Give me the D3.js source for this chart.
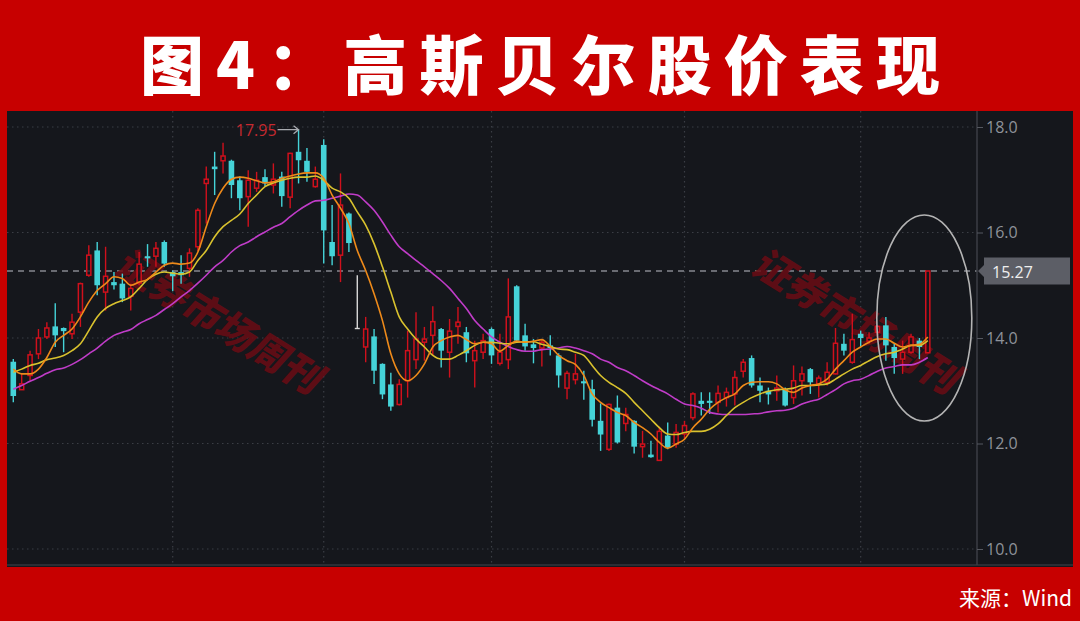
<!DOCTYPE html>
<html><head><meta charset="utf-8">
<script src="https://cdn.jsdelivr.net/npm/d3@7/dist/d3.min.js"></script>
<style>html,body{margin:0;padding:0;background:#c70000;}svg{display:block;}</style>
</head><body>
<svg id="c" width="1080" height="621"></svg>
<script>
const openP=[13.55,13.02,13.29,13.70,14.02,14.22,14.19,14.08,14.49,15.19,15.66,14.87,15.06,15.03,14.79,15.04,15.55,15.55,15.82,15.25,15.25,15.32,15.73,16.93,17.25,17.36,17.36,16.99,16.68,16.84,17.05,16.90,17.06,16.67,17.53,17.36,16.87,17.66,15.82,15.57,16.36,14.18,13.83,14.03,13.51,13.12,12.74,13.19,13.59,13.92,14.05,14.17,13.73,14.22,14.11,13.57,13.73,14.17,13.52,13.59,14.98,14.05,13.88,13.81,13.86,13.67,13.05,13.21,13.18,13.03,12.43,11.89,12.68,12.38,12.43,11.94,11.79,11.68,12.15,11.99,12.18,12.49,12.81,12.81,12.78,12.87,12.94,13.37,13.62,13.10,13.00,13.00,13.03,12.87,13.19,13.41,13.13,13.16,13.32,13.89,13.54,14.08,13.94,14.11,14.24,13.83,13.60,13.73,13.95,13.72];
const highP=[13.60,13.32,13.76,14.17,14.30,14.66,14.20,14.46,15.05,15.76,15.82,15.73,15.25,15.22,15.03,15.63,15.78,15.82,15.85,15.28,15.57,15.70,16.46,17.25,17.53,17.70,17.38,17.06,17.18,17.15,17.20,17.31,17.15,17.51,17.95,17.60,17.25,17.77,16.52,17.12,16.38,15.19,14.40,14.17,13.52,13.34,13.22,14.14,14.49,14.21,14.60,14.19,14.36,14.59,14.21,13.95,14.08,14.20,14.08,15.13,15.00,14.27,13.98,13.98,14.05,13.71,13.38,13.70,13.38,13.21,12.76,12.76,12.91,12.68,12.44,12.24,12.05,12.32,12.40,12.37,12.43,12.97,12.97,12.97,13.10,13.06,13.38,13.60,13.67,13.25,13.06,13.29,13.06,13.48,13.46,13.43,13.29,13.54,14.19,14.08,14.46,14.14,14.11,14.24,14.40,13.89,13.95,14.08,14.00,15.27];
const lowP=[12.78,13.02,13.19,13.60,13.98,13.83,13.73,13.98,14.21,15.16,14.81,14.52,14.92,14.68,14.52,15.00,15.35,15.35,15.35,14.89,15.03,15.16,15.65,16.17,16.71,17.12,16.65,16.42,16.11,16.77,16.87,16.74,16.49,16.46,16.93,16.96,16.85,15.41,15.38,15.06,15.63,14.17,13.54,13.13,12.84,12.62,12.72,12.87,13.41,13.57,13.67,13.44,13.25,13.89,13.54,13.06,13.60,13.51,13.48,13.41,13.92,13.76,13.52,13.46,13.67,13.06,12.84,13.12,12.83,12.32,11.86,11.86,12.00,12.23,11.81,11.73,11.73,11.67,11.89,11.92,12.08,12.44,12.53,12.56,12.59,12.70,12.72,13.25,13.06,12.78,12.74,12.81,12.70,12.75,12.91,12.94,12.87,13.10,13.31,13.67,13.51,13.83,13.89,14.02,13.57,13.32,13.32,13.70,13.60,13.72];
const closeP=[12.90,13.13,13.68,14.00,14.19,14.05,14.13,14.30,15.03,15.57,15.00,15.17,15.00,14.75,14.94,15.40,15.51,15.70,15.41,15.17,15.19,15.61,16.42,17.01,17.20,17.45,16.90,16.65,16.99,16.99,16.93,17.01,16.69,17.50,17.37,17.15,17.01,16.04,15.55,16.52,15.80,14.18,14.17,13.38,12.93,12.70,13.12,13.76,13.98,13.98,14.31,13.76,14.13,14.30,13.71,13.76,13.95,13.67,13.73,14.40,13.95,13.84,13.81,13.92,13.81,13.29,13.33,13.32,13.14,12.45,12.17,12.74,12.02,12.55,11.94,11.99,11.74,12.23,11.92,12.21,12.34,12.94,12.75,12.77,12.95,12.97,13.25,13.54,13.10,13.00,12.93,13.05,12.72,13.19,13.32,13.16,13.24,13.35,13.90,13.76,13.97,14.00,14.00,14.22,13.86,13.62,13.73,14.02,13.83,15.27];
const ma5=[13.41,13.32,13.32,13.41,13.63,13.92,14.05,14.17,14.40,14.68,14.90,15.03,15.16,15.13,15.00,15.06,15.11,15.25,15.38,15.42,15.40,15.42,15.63,16.11,16.55,16.84,17.01,17.05,17.03,16.98,16.94,16.96,17.03,17.07,17.11,17.13,17.13,17.03,16.71,16.46,16.17,15.66,15.28,14.84,14.33,13.70,13.32,13.19,13.29,13.51,13.83,13.95,14.02,14.05,13.97,13.89,13.92,13.89,13.75,13.86,13.94,13.92,13.94,13.97,13.84,13.67,13.57,13.50,13.29,12.94,12.78,12.68,12.59,12.53,12.40,12.30,12.18,12.02,11.91,11.99,12.08,12.30,12.46,12.65,12.78,12.87,12.94,13.10,13.16,13.17,13.17,13.13,13.02,12.97,13.05,13.10,13.13,13.22,13.41,13.57,13.73,13.83,13.92,13.98,13.98,13.90,13.83,13.86,13.88,14.02];
const ma10=[13.35,13.41,13.48,13.52,13.59,13.62,13.67,13.76,13.89,14.14,14.40,14.56,14.65,14.71,14.78,14.94,15.11,15.21,15.25,15.23,15.21,15.25,15.47,15.66,15.92,16.11,16.23,16.35,16.55,16.71,16.87,16.94,16.99,17.03,17.05,17.05,17.07,16.99,16.84,16.77,16.65,16.39,16.14,15.79,15.35,14.87,14.40,14.17,13.98,13.83,13.67,13.60,13.60,13.67,13.76,13.86,13.92,13.92,13.90,13.89,13.92,13.93,13.93,13.88,13.84,13.79,13.78,13.73,13.67,13.48,13.29,13.16,13.06,12.95,12.78,12.62,12.46,12.30,12.18,12.17,12.21,12.23,12.23,12.27,12.37,12.53,12.68,12.78,12.87,12.94,12.99,13.02,13.03,13.05,13.10,13.10,13.11,13.13,13.22,13.32,13.41,13.48,13.57,13.65,13.70,13.73,13.79,13.86,13.86,13.95];
const ma30=[13.03,13.10,13.18,13.25,13.33,13.40,13.43,13.50,13.59,13.70,13.81,13.94,14.05,14.11,14.16,14.27,14.35,14.43,14.54,14.65,14.78,14.90,15.04,15.19,15.35,15.47,15.63,15.75,15.82,15.92,16.01,16.10,16.17,16.30,16.42,16.52,16.60,16.61,16.65,16.69,16.73,16.71,16.58,16.42,16.20,15.95,15.73,15.60,15.47,15.35,15.22,15.09,14.94,14.75,14.56,14.33,14.17,14.02,13.92,13.84,13.78,13.75,13.75,13.78,13.79,13.81,13.84,13.81,13.76,13.70,13.60,13.54,13.44,13.38,13.29,13.19,13.10,13.02,12.94,12.84,12.75,12.72,12.67,12.59,12.56,12.55,12.55,12.55,12.56,12.57,12.60,12.62,12.63,12.67,12.75,12.80,12.84,12.93,13.02,13.13,13.19,13.22,13.29,13.37,13.43,13.46,13.49,13.49,13.54,13.63];
const yTicks=[10,12,14,16,18];
const gridIdx=[19,37,57,80,101];
const lastPrice=15.27;
const highPrice=17.95, highIdx=34;
const titleText="图4：高斯贝尔股价表现";
const sourceText="来源：Wind";
const watermarkText="证券市场周刊";

const svg=d3.select("#c");
const n=closeP.length;
const x=d3.scaleBand().domain(d3.range(n)).range([9.1,932]);
const cx=i=>x(i)+x.bandwidth()/2;
const y=d3.scaleLinear().domain([10,18]).range([549,127]);
const PL=7,PR=1073,PT=111,PB=567,AX=977;

// title
const title=svg.append("text").attr("x",540).attr("y",61).attr("text-anchor","middle")
 .attr("dominant-baseline","central").attr("fill","#fff")
 .style("font-family","'Noto Sans CJK SC',sans-serif").style("font-weight",900).style("font-size","64px")
 .text(titleText);
{const w=title.node().getComputedTextLength();const ls=Math.max(0,(800-w)/(titleText.length-1));title.style("letter-spacing",ls+"px").attr("x",540+ls/2);}

// panel
svg.append("rect").attr("x",PL).attr("y",PT).attr("width",PR-PL).attr("height",PB-PT).attr("fill","#15171c");

const g=svg.append("g");
g.selectAll(".hg").data(yTicks).join("line").attr("x1",PL).attr("x2",AX).attr("y1",d=>y(d)).attr("y2",d=>y(d))
 .attr("stroke","#3b3e45").attr("stroke-width",1.2).attr("stroke-dasharray","1.5,3.5");
g.selectAll(".vg").data(gridIdx).join("line").attr("x1",d=>cx(d)).attr("x2",d=>cx(d)).attr("y1",PT).attr("y2",PB-2)
 .attr("stroke","#3b3e45").attr("stroke-width",1.2).attr("stroke-dasharray","1.5,3.5");
g.append("line").attr("x1",PL).attr("x2",PR).attr("y1",PB-2).attr("y2",PB-2).attr("stroke","#33363d").attr("stroke-width",1.5);
const ax=svg.append("g").attr("transform",`translate(${AX},0)`).call(d3.axisRight(y).tickValues(yTicks).tickFormat(d3.format(".1f")).tickSize(6).tickPadding(3));
ax.select(".domain").attr("d",`M0,${PT}V${PB-2}`).attr("stroke","#3b3e45").attr("stroke-width",1.5);
ax.selectAll(".tick line").attr("stroke","#555860");
ax.selectAll(".tick text").attr("fill","#8e9299").style("font-family","'Open Sans','Noto Sans',sans-serif").style("font-size","16px");

g.append("line").attr("x1",PL).attr("x2",AX).attr("y1",y(lastPrice)).attr("y2",y(lastPrice))
 .attr("stroke","#85888e").attr("stroke-width",1.3).attr("stroke-dasharray","6,5");

// watermarks (behind marks)
[[223,320],[860,320]].forEach(p=>{
 svg.append("text").attr("transform",`translate(${p[0]},${p[1]}) rotate(32) skewX(-10)`).attr("text-anchor","middle")
  .attr("dominant-baseline","central").attr("fill","#6a0c14").attr("opacity",0.85)
  .style("font-family","'Noto Sans CJK SC',sans-serif").style("font-weight",900).style("font-size","39px")
  .text(watermarkText);
});

// candles
const RED="#d0101c",CY="#45d3d8",GR="#d8d8d8";
const data=d3.range(n).map(i=>({i,o:openP[i],h:highP[i],l:lowP[i],c:closeP[i]}));
const bw=5.6;
const cg=svg.append("g");
data.forEach(d=>{
 const col=d.c>d.o?RED:(d.c<d.o?CY:GR);
 const top=y(Math.max(d.o,d.c)),bot=y(Math.min(d.o,d.c));
 const X=cx(d.i);
 if(d.c>d.o){
  cg.append("line").attr("x1",X).attr("x2",X).attr("y1",y(d.h)).attr("y2",top).attr("stroke",col).attr("stroke-width",1.4);
  cg.append("line").attr("x1",X).attr("x2",X).attr("y1",bot).attr("y2",y(d.l)).attr("stroke",col).attr("stroke-width",1.4);
  cg.append("rect").attr("x",X-bw/2+0.75).attr("y",top).attr("width",bw-1.5).attr("height",Math.max(bot-top,1))
   .attr("fill","#15171c").attr("fill-opacity",0.7).attr("stroke",col).attr("stroke-width",1.5);
 } else {
  cg.append("line").attr("x1",X).attr("x2",X).attr("y1",y(d.h)).attr("y2",y(d.l)).attr("stroke",col).attr("stroke-width",1.4);
  if(d.c<d.o) cg.append("rect").attr("x",X-bw/2).attr("y",top).attr("width",bw).attr("height",Math.max(bot-top,1.5)).attr("fill",col);
  else cg.append("line").attr("x1",X-2.5).attr("x2",X+2.5).attr("y1",top).attr("y2",top).attr("stroke",col).attr("stroke-width",1.4);
 }
});

// MA lines
const line=arr=>d3.line().x((d,i)=>cx(i)).y(d=>y(d)).curve(d3.curveMonotoneX)(arr);
[[ma30,"#c03cc8"],[ma10,"#d9c22e"],[ma5,"#ee8a1a"]].forEach(([a,c])=>{
 svg.append("path").attr("d",line(a)).attr("fill","none").attr("stroke",c).attr("stroke-width",1.6);
});

// high annotation
const hx=cx(highIdx),hy=y(highPrice);
svg.append("text").attr("x",hx-22).attr("y",hy).attr("text-anchor","end").attr("dominant-baseline","central")
 .attr("fill","#c62a30").style("font-family","'Open Sans','Noto Sans',sans-serif").style("font-size","16px").text(highPrice.toFixed(2));
svg.append("path").attr("d",`M${hx-21},${hy}H${hx}M${hx-5},${hy-4}L${hx},${hy}L${hx-5},${hy+4}`).attr("fill","none")
 .attr("stroke","#a9abb0").attr("stroke-width",1.3);

// ellipse highlight
svg.append("ellipse").attr("cx",cx(n-1)-3.5).attr("cy",318).attr("rx",47.5).attr("ry",103)
 .attr("fill","none").attr("stroke","#b4b4b4").attr("stroke-width",1.6);

// last price label
const ly=y(lastPrice);
svg.append("path").attr("d",`M${AX+1},${ly}L${AX+7},${ly-6}V${ly-13.5}H1070V${ly+13.5}H${AX+7}V${ly+6}Z`).attr("fill","#5c5e66");
svg.append("text").attr("x",992).attr("y",ly+1).attr("dominant-baseline","central").attr("fill","#eeeeee")
 .style("font-family","'Open Sans','Noto Sans',sans-serif").style("font-size","16px").text(lastPrice.toFixed(2));

// source
svg.append("text").attr("x",1072).attr("y",597).attr("text-anchor","end").attr("dominant-baseline","central").attr("fill","#fff")
 .style("font-family","'Noto Sans CJK SC',sans-serif").style("font-size","21px").style("font-weight",400).text(sourceText);
</script>
</body></html>
